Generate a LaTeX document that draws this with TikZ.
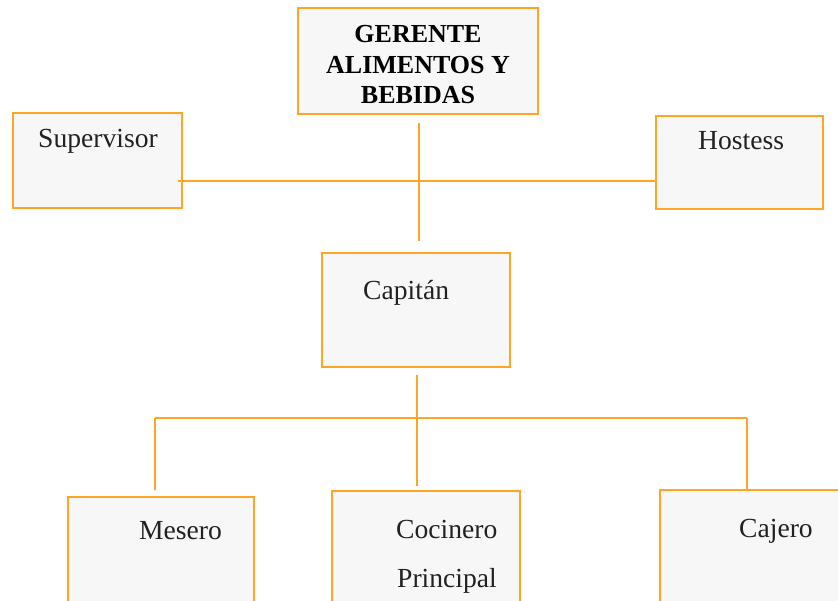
\documentclass[tikz,border=0pt]{standalone}
\usepackage{fontspec}
\setmainfont{Liberation Serif}
\definecolor{org}{HTML}{FFA424}
\definecolor{boxfill}{HTML}{F7F7F7}
\definecolor{txt}{HTML}{222222}
\begin{document}
\begin{tikzpicture}[x=1pt,y=-1pt,
  box/.style={draw=org,line width=1.8pt,fill=boxfill,anchor=north west,inner sep=0pt,outer sep=0pt},
  lbl/.style={anchor=base west,inner sep=0pt,text=txt,font=\fontsize{27.6}{31}\selectfont},
  conn/.style={draw=org,line width=2pt}]
\useasboundingbox (0,0) rectangle (838,601);
\clip (0,0) rectangle (838,601);
% boxes
\node[box,minimum width=240pt,minimum height=106pt] (ger) at (298,8) {};
\node[box,minimum width=169pt,minimum height=95pt] (sup) at (13,113) {};
\node[box,minimum width=167pt,minimum height=93pt] (hos) at (656,116) {};
\node[box,minimum width=188pt,minimum height=114pt] (cap) at (322,253) {};
\node[box,minimum width=186pt,minimum height=140pt] (mes) at (68,497) {};
\node[box,minimum width=188pt,minimum height=140pt] (coc) at (332,491) {};
\node[box,minimum width=200pt,minimum height=140pt] (caj) at (660,490) {};
% texts
\node[anchor=base,inner sep=0pt,align=center,font=\bfseries\fontsize{26}{30.5}\selectfont] (gert) at (418,104) {GERENTE\\ALIMENTOS Y\\BEBIDAS};
\node[lbl] (supt) at (38,148) {Supervisor};
\node[lbl] (host) at (698,150) {Hostess};
\node[lbl] (capt) at (363,300) {Capitán};
\node[lbl] (mest) at (139,539) {Mesero};
\node[lbl] (coct) at (396,538) {Cocinero};
\node[lbl] (coct2) at (397,587) {Principal};
\node[lbl] (cajt) at (739,537) {Cajero};
% connector points
\coordinate (g1) at (419,123);
\coordinate (g2) at (419,241);
\coordinate (h1) at (178,181);
\coordinate (h2) at (656,181);
\coordinate (c1) at (417,375);
\coordinate (c2) at (417,486);
\coordinate (b1) at (155,418);
\coordinate (b2) at (747,418);
\coordinate (m1) at (155,490);
\coordinate (j1) at (747,490);
\draw[conn] (g1) -- (g2);
\draw[conn] (h1) -- (h2);
\draw[conn] (c1) -- (c2);
\draw[conn] (b1) -- (b2);
\draw[conn] (b1) -- (m1);
\draw[conn] (b2) -- (j1);
\end{tikzpicture}
\end{document}
